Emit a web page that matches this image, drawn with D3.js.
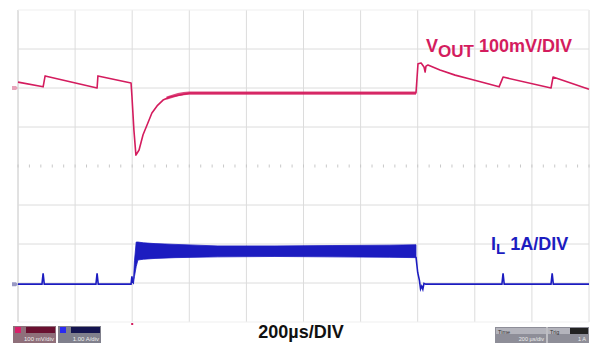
<!DOCTYPE html>
<html>
<head>
<meta charset="utf-8">
<script src="https://cdn.jsdelivr.net/npm/d3@7/dist/d3.min.js"></script>
<style>
  body { margin: 0; background: #fff; }
  #chart { width: 596px; height: 343px; }
  text { font-family: "Liberation Sans", Arial, sans-serif; }
</style>
</head>
<body>
<div id="chart"></div>
<script>
// Time base: 10 divisions of 200us
var timeDomain = [0, 2000];

// VOUT trace, time (us) and offset from channel marker (mV)
var vTime = [0, 88, 95, 277, 280, 396, 399, 406, 413, 424, 438, 452, 469, 487, 508, 532, 567, 603, 1394,
             1401, 1412, 1422, 1426, 1429, 1436, 1478, 1531, 1583, 1636, 1685, 1699, 1867, 1874, 2000];
var vOut  = [15, 3, 31, 0, 31, 13, -20, -108, -172, -159, -120, -95, -64, -46, -31, -23, -18, -13, -13,
             62, 64, 54, 41, 56, 59, 46, 33, 23, 13, 3, 28, 0, 28, -3];

// VOUT ripple band during the loaded interval (mV)
var vBandTime = [520, 600, 1000, 1394];
var vBandHi   = [-22, -9, -9, -9];
var vBandLo   = [-30, -17, -17, -17];

// IL trace outside the load step, time (us) and current (A)
var ilTimeA = [0, 84, 88, 92, 273, 277, 281, 396, 399, 402, 404];
var ilValA  = [0, 0, 0.28, 0, 0, 0.28, 0, 0, 0.2, 0.05, 0.05];
var ilTimeB = [1394, 1400, 1406, 1410, 1414, 1418, 1422, 1428, 1695, 1699, 1703, 1867, 1871, 1875, 2000];
var ilValB  = [0.7, 0.3, 0.1, -0.12, -0.05, -0.13, 0.02, 0, 0, 0.28, 0, 0, 0.28, 0, 0];

// IL switching band envelope while loaded (A)
var ilBandTime = [404, 408, 414, 420, 440, 480, 550, 700, 900, 1100, 1300, 1394];
var ilBandHi   = [0.05, 0.6, 1.08, 1.08, 1.06, 1.04, 1.02, 0.98, 0.98, 0.99, 1.0, 1.01];
var ilBandLo   = [0, 0.2, 0.45, 0.62, 0.64, 0.66, 0.68, 0.70, 0.71, 0.70, 0.69, 0.68];

var vLabel = ['V', 'OUT', ' 100mV/DIV'];
var iLabel = ['I', 'L', ' 1A/DIV'];
var timeLabel = '200\u00b5s/DIV';

var vColor = '#d41c5e';
var iColor = '#1c1cc0';

var plot = {left: 18, right: 589, top: 10, bottom: 322};

var svg = d3.select('#chart').append('svg')
    .attr('width', 596)
    .attr('height', 343);

var x = d3.scaleLinear().domain(timeDomain).range([plot.left, plot.right]);
var yDiv = d3.scaleLinear().domain([-4, 4]).range([plot.bottom, plot.top]);
var yV = d3.scaleLinear().domain([-600, 200]).range([plot.bottom, plot.top]);
var yI = d3.scaleLinear().domain([-0.97, 7.03]).range([plot.bottom, plot.top]);

// Graticule
var grid = svg.append('g').attr('class', 'grid');
grid.selectAll('line.v')
    .data(d3.range(0, 11))
    .enter().append('line')
    .attr('class', 'v')
    .attr('x1', function(d) { return x(d * 200); })
    .attr('x2', function(d) { return x(d * 200); })
    .attr('y1', plot.top)
    .attr('y2', plot.bottom)
    .attr('stroke', function(d) { return d === 0 ? '#c4c4c4' : '#dcdcdc'; })
    .attr('stroke-width', 1);

grid.selectAll('line.h')
    .data(d3.range(-4, 5).filter(function(d) { return d !== 0; }))
    .enter().append('line')
    .attr('class', 'h')
    .attr('x1', plot.left)
    .attr('x2', plot.right)
    .attr('y1', function(d) { return yDiv(d); })
    .attr('y2', function(d) { return yDiv(d); })
    .attr('stroke', function(d) { return (d === 4 || d === -4) ? '#efefef' : '#dcdcdc'; })
    .attr('stroke-width', 1);

// centre row: minor tick marks only
grid.selectAll('line.tick')
    .data(d3.range(0, 51))
    .enter().append('line')
    .attr('class', 'tick')
    .attr('x1', function(d) { return x(d * 40); })
    .attr('x2', function(d) { return x(d * 40); })
    .attr('y1', yDiv(0) - 1.5)
    .attr('y2', yDiv(0) + 1.5)
    .attr('stroke', '#c8c8c8');

// VOUT trace
var vData = vTime.map(function(t, i) { return [t, vOut[i]]; });
var vBand = vBandTime.map(function(t, i) { return [t, vBandHi[i], vBandLo[i]]; });

svg.append('path')
    .datum(vBand)
    .attr('fill', vColor)
    .attr('opacity', 0.8)
    .attr('d', d3.area()
        .curve(d3.curveMonotoneX)
        .x(function(d) { return x(d[0]); })
        .y0(function(d) { return yV(d[2]); })
        .y1(function(d) { return yV(d[1]); }));

svg.append('path')
    .datum(vData)
    .attr('fill', 'none')
    .attr('stroke', vColor)
    .attr('stroke-width', 1.6)
    .attr('stroke-linejoin', 'round')
    .attr('d', d3.line()
        .x(function(d) { return x(d[0]); })
        .y(function(d) { return yV(d[1]); }));

// IL trace
var ilBand = ilBandTime.map(function(t, i) { return [t, ilBandHi[i], ilBandLo[i]]; });
svg.append('path')
    .datum(ilBand)
    .attr('fill', iColor)
    .attr('stroke', iColor)
    .attr('stroke-width', 0.8)
    .attr('d', d3.area()
        .x(function(d) { return x(d[0]); })
        .y0(function(d) { return yI(d[2]); })
        .y1(function(d) { return yI(d[1]); }));

[[ilTimeA, ilValA], [ilTimeB, ilValB]].forEach(function(s) {
    var pts = s[0].map(function(t, i) { return [t, s[1][i]]; });
    svg.append('path')
        .datum(pts)
        .attr('fill', 'none')
        .attr('stroke', iColor)
        .attr('stroke-width', 1.6)
        .attr('d', d3.line()
            .x(function(d) { return x(d[0]); })
            .y(function(d) { return yI(d[1]); }));
});

// Channel ground markers and trigger position
svg.append('path')
    .attr('d', 'M' + (plot.left - 6) + ',' + (yV(0) - 2) + 'h4l2,2l-2,2h-4z')
    .attr('fill', '#e7a3b9');
svg.append('path')
    .attr('d', 'M' + (plot.left - 6) + ',' + (yI(0) - 2) + 'h4l2,2l-2,2h-4z')
    .attr('fill', '#9a9ac4');
svg.append('rect')
    .attr('x', x(400) - 1)
    .attr('y', plot.bottom + 1)
    .attr('width', 2)
    .attr('height', 2)
    .attr('fill', vColor);

// Trace labels
var vt = svg.append('text')
    .attr('x', 426)
    .attr('y', 52)
    .attr('fill', vColor)
    .attr('font-weight', 'bold')
    .attr('font-size', 18);
vt.append('tspan').text(vLabel[0]);
vt.append('tspan').attr('dy', 5).attr('font-size', 17).text(vLabel[1]);
vt.append('tspan').attr('dy', -5).text(vLabel[2]);

var it = svg.append('text')
    .attr('x', 491)
    .attr('y', 250)
    .attr('fill', iColor)
    .attr('font-weight', 'bold')
    .attr('font-size', 18);
it.append('tspan').text(iLabel[0]);
it.append('tspan').attr('dy', 4).attr('font-size', 15).text(iLabel[1]);
it.append('tspan').attr('dy', -4).text(iLabel[2]);

svg.append('text')
    .attr('x', 301)
    .attr('y', 338)
    .attr('text-anchor', 'middle')
    .attr('font-weight', 'bold')
    .attr('font-size', 18)
    .attr('fill', '#111')
    .text(timeLabel);

// Scope status boxes
var chBoxes = [
    {x: 13, color: '#d8206a', dark: '#6a1030', bg: '#8f6f7a', label: '100 mV/div'},
    {x: 58, color: '#2a2af0', dark: '#141450', bg: '#80808c', label: '1.00 A/div'}
];
chBoxes.forEach(function(b) {
    var g = svg.append('g');
    g.append('rect').attr('x', b.x).attr('y', 326).attr('width', 43).attr('height', 17).attr('fill', b.bg);
    g.append('rect').attr('x', b.x + 2).attr('y', 327).attr('width', 6).attr('height', 6).attr('fill', b.color);
    g.append('rect').attr('x', b.x + 13).attr('y', 327).attr('width', 29).attr('height', 6).attr('fill', b.dark);
    g.append('text').attr('x', b.x + 41).attr('y', 341).attr('text-anchor', 'end')
        .attr('font-size', 6).attr('fill', '#eee').text(b.label);
});

var rb = svg.append('g');
rb.append('rect').attr('x', 495).attr('y', 327).attr('width', 94).attr('height', 16).attr('fill', '#8e8e98');
rb.append('rect').attr('x', 496).attr('y', 328).attr('width', 50).attr('height', 6).attr('fill', '#b4b4bc');
rb.append('rect').attr('x', 548).attr('y', 328).attr('width', 40).attr('height', 6).attr('fill', '#b4b4bc');
rb.append('rect').attr('x', 570).attr('y', 328).attr('width', 18).attr('height', 6).attr('fill', '#222');
rb.append('line').attr('x1', 547).attr('x2', 547).attr('y1', 327).attr('y2', 343).attr('stroke', '#eee');
rb.append('text').attr('x', 498).attr('y', 333.5).attr('font-size', 5.5).attr('fill', '#333').text('Time');
rb.append('text').attr('x', 550).attr('y', 333.5).attr('font-size', 5.5).attr('fill', '#333').text('Trig');
rb.append('text').attr('x', 544).attr('y', 341).attr('text-anchor', 'end').attr('font-size', 5.5).attr('fill', '#eee').text('200 \u00b5s/div');
rb.append('text').attr('x', 586).attr('y', 341).attr('text-anchor', 'end').attr('font-size', 5.5).attr('fill', '#eee').text('1 A');
</script>
</body>
</html>
